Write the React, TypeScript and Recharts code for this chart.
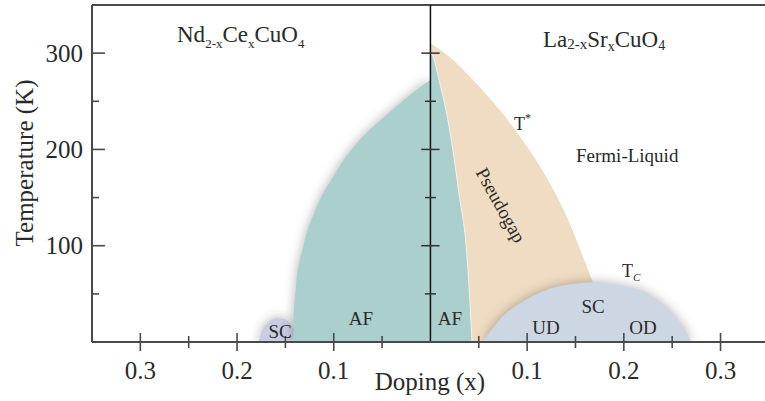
import React from 'react';
import { AreaChart, Area, XAxis, YAxis, ReferenceLine } from 'recharts';

// phase boundaries, doping x (negative = electron doped side) vs temperature (K)
const ndSC = [
  { x: -0.178, t: 0 }, { x: -0.174, t: 12 }, { x: -0.168, t: 20 }, { x: -0.16, t: 25 },
  { x: -0.152, t: 24 }, { x: -0.145, t: 19 }, { x: -0.14, t: 10 }, { x: -0.136, t: 0 },
];
const ndAF = [
  { x: -0.142, t: 0 }, { x: -0.1415, t: 23 }, { x: -0.139, t: 57 }, { x: -0.1315, t: 99 },
  { x: -0.119, t: 137 }, { x: -0.101, t: 171 }, { x: -0.089, t: 190 }, { x: -0.079, t: 203 },
  { x: -0.065, t: 218 }, { x: -0.052, t: 230 }, { x: -0.037, t: 243 }, { x: -0.023, t: 255 },
  { x: -0.01, t: 265 }, { x: 0, t: 272 },
];
const pseudogap = [
  { x: 0, t: 310 }, { x: 0.02, t: 296 }, { x: 0.044, t: 272 }, { x: 0.074, t: 238 },
  { x: 0.095, t: 210 }, { x: 0.12, t: 171 }, { x: 0.141, t: 130 }, { x: 0.158, t: 88 },
  { x: 0.168, t: 62 },
];
const laAF = [
  { x: 0, t: 300 }, { x: 0.002, t: 298 }, { x: 0.009, t: 272 }, { x: 0.02, t: 220 },
  { x: 0.03, t: 151 }, { x: 0.037, t: 99 }, { x: 0.04, t: 57 }, { x: 0.043, t: 0 },
];
const laSC = [
  { x: 0.054, t: 0 }, { x: 0.074, t: 26 }, { x: 0.099, t: 44 }, { x: 0.126, t: 56 },
  { x: 0.154, t: 61 }, { x: 0.168, t: 62 }, { x: 0.195, t: 59 }, { x: 0.223, t: 51 },
  { x: 0.247, t: 33 }, { x: 0.261, t: 16 }, { x: 0.27, t: 0 },
];

const xMajor = [-0.3, -0.2, -0.1, 0.1, 0.2, 0.3];
const xMinor = [-0.25, -0.15, -0.05, 0.05, 0.15, 0.25];
const tMajor = [100, 200, 300];
const tMinor = [50, 150, 250];

const FONT = '"Liberation Serif", "DejaVu Serif", serif';
const INK = '#2a2a2a';
const AXIS = '#4a4a4a';

const XTick = (props: any) => {
  const { x, y, payload } = props;
  const major = xMajor.includes(payload.value);
  const h = major ? 9 : 6;
  return (
    <g>
      <line x1={x} x2={x} y1={y - h} y2={y + h} stroke={AXIS} strokeWidth={1.6} />
      {major && (
        <text x={x} y={y + 37} textAnchor="middle" fontFamily={FONT} fontSize={25} fill={INK}>
          {Math.abs(payload.value).toFixed(1)}
        </text>
      )}
    </g>
  );
};

const YTick = (props: any) => {
  const { x, y, payload } = props;
  const major = tMajor.includes(payload.value);
  return (
    <g>
      <line x1={x} x2={x + (major ? 13 : 7)} y1={y} y2={y} stroke={AXIS} strokeWidth={1.6} />
      {major && (
        <text x={x - 9} y={y} dy="0.35em" textAnchor="end" fontFamily={FONT} fontSize={25} fill={INK}>
          {payload.value}
        </text>
      )}
    </g>
  );
};

export default function App() {
  return (
    <div style={{ position: 'absolute', left: 0, top: 0, width: 765, height: 401, background: '#fff' }}>
      <style>{`.glow path { filter: drop-shadow(0 0 6px rgba(0,0,0,0.3)); }`}</style>
      <AreaChart width={765} height={401} margin={{ top: 5, right: 0, bottom: 0, left: 0 }}>
        <Area className="glow" data={ndSC} dataKey="t" type="monotone" fill="#c9cde2" fillOpacity={1} stroke="none" isAnimationActive={false} />
        <Area className="glow" data={ndAF} dataKey="t" type="monotone" fill="#aacfcd" fillOpacity={1} stroke="none" isAnimationActive={false} />
        <Area data={pseudogap} dataKey="t" type="monotone" fill="#efdcc2" fillOpacity={1} stroke="none" isAnimationActive={false} />
        <Area data={laAF} dataKey="t" type="monotone" fill="#aacfcd" fillOpacity={1} stroke="#f4f4f0" strokeWidth={1} isAnimationActive={false} />
        <Area className="glow" data={laSC} dataKey="t" type="monotone" fill="#cdd7e4" fillOpacity={1} stroke="none" isAnimationActive={false} />

        <XAxis
          dataKey="x"
          type="number"
          domain={[-0.35, 0.346]}
          ticks={[...xMajor, ...xMinor].sort((a, b) => a - b)}
          interval={0}
          height={59}
          tickSize={0}
          tickMargin={0}
          tickLine={false}
          axisLine={{ stroke: AXIS, strokeWidth: 2 }}
          tick={<XTick />}
          allowDataOverflow
        />
        <YAxis
          type="number"
          domain={[0, 350]}
          ticks={[50, 100, 150, 200, 250, 300]}
          interval={0}
          width={92}
          tickSize={0}
          tickMargin={0}
          tickLine={false}
          axisLine={{ stroke: AXIS, strokeWidth: 2 }}
          tick={<YTick />}
          allowDataOverflow
        />

        <ReferenceLine y={350} stroke={AXIS} strokeWidth={2} />
        <ReferenceLine x={0} stroke="#111" strokeWidth={1.5} />
        {tMajor.map((t) => (
          <ReferenceLine key={'M' + t} segment={[{ x: -0.0095, y: t }, { x: 0.0095, y: t }]} stroke="#333" strokeWidth={1.5} />
        ))}
        {tMinor.map((t) => (
          <ReferenceLine key={'m' + t} segment={[{ x: -0.0057, y: t }, { x: 0.0057, y: t }]} stroke="#333" strokeWidth={1.5} />
        ))}
      </AreaChart>

      <svg
        width={765}
        height={401}
        style={{ position: 'absolute', left: 0, top: 0, pointerEvents: 'none' }}
      >
        <g fontFamily={FONT} fill={INK}>
          <text x={177} y={42} fontSize={23}>
            Nd<tspan dy={6} fontSize={13}>2-x</tspan>
            <tspan dy={-6}>Ce</tspan>
            <tspan dy={6} fontSize={13}>x</tspan>
            <tspan dy={-6}>CuO</tspan>
            <tspan dy={6} fontSize={13}>4</tspan>
          </text>
          <text x={543} y={47} fontSize={23}>
            La<tspan dy={2} fontSize={15}>2-x</tspan>
            <tspan dy={-2}>Sr</tspan>
            <tspan dy={4} fontSize={14}>x</tspan>
            <tspan dy={-4}>CuO</tspan>
            <tspan dy={3} fontSize={14}>4</tspan>
          </text>
          <text x={514} y={130} fontSize={18}>
            T<tspan dy={-8} fontSize={12}>*</tspan>
          </text>
          <text x={576} y={162} fontSize={19}>Fermi-Liquid</text>
          <text transform="translate(501,205) rotate(61)" textAnchor="middle" dy="0.35em" fontSize={19}>Pseudogap</text>
          <text x={622} y={277} fontSize={18}>
            T<tspan dy={4} fontSize={11} fontStyle="italic">C</tspan>
          </text>
          <text x={593} y={313} textAnchor="middle" fontSize={19}>SC</text>
          <text x={546} y={334} textAnchor="middle" fontSize={19}>UD</text>
          <text x={643} y={334} textAnchor="middle" fontSize={19}>OD</text>
          <text x={361} y={325} textAnchor="middle" fontSize={19}>AF</text>
          <text x={450} y={325} textAnchor="middle" fontSize={19}>AF</text>
          <text x={280} y={338} textAnchor="middle" fontSize={19}>SC</text>
          <text transform="translate(33,163) rotate(-90)" textAnchor="middle" fontSize={25}>Temperature (K)</text>
          <text x={430} y={390} textAnchor="middle" fontSize={25}>Doping (x)</text>
        </g>
      </svg>
    </div>
  );
}
